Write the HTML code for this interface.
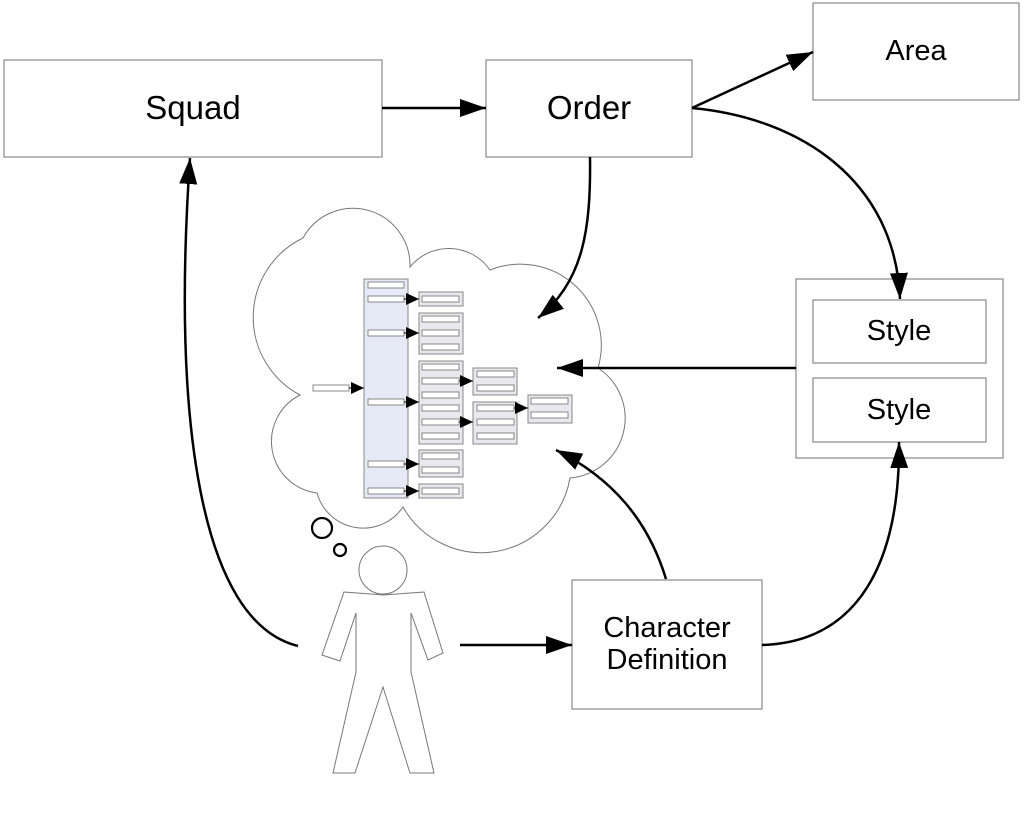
<!DOCTYPE html>
<html><head><meta charset="utf-8"><style>
html,body{margin:0;padding:0;background:#fff;}
svg{display:block;}
text{font-family:"Liberation Sans",Arial,sans-serif;fill:#000;}
</style></head><body>
<svg width="1024" height="826" viewBox="0 0 1024 826" xmlns="http://www.w3.org/2000/svg">
<defs>
<marker id="ah" markerUnits="userSpaceOnUse" markerWidth="28" markerHeight="20" refX="26" refY="9" orient="auto">
<path d="M0,0 L26,9 L0,18 Z" fill="#000"/>
</marker>
<marker id="sa" markerUnits="userSpaceOnUse" markerWidth="14" markerHeight="12" refX="13" refY="6" orient="auto">
<path d="M0,0 L13,6 L0,12 Z" fill="#000"/>
</marker>
</defs>

<g fill="#fff" stroke="#888" stroke-width="1.2">
<rect x="4" y="60" width="378" height="97"/>
<rect x="486" y="60" width="206" height="97"/>
<rect x="813" y="3" width="206" height="97"/>
<rect x="796" y="279" width="207" height="179"/>
<rect x="813" y="300" width="173" height="63"/>
<rect x="813" y="378" width="173" height="64"/>
<rect x="572" y="580" width="190" height="129"/>
</g>
<text x="193" y="119" font-size="33" text-anchor="middle">Squad</text>
<text x="589" y="119" font-size="33" text-anchor="middle">Order</text>
<text x="916" y="60" font-size="29" text-anchor="middle">Area</text>
<text x="899" y="340" font-size="29" text-anchor="middle">Style</text>
<text x="899" y="419" font-size="29" text-anchor="middle">Style</text>
<text x="667" y="637" font-size="29" text-anchor="middle">Character</text>
<text x="667" y="669" font-size="29" text-anchor="middle">Definition</text>

<path d="M300,395 A88,88 0 0 1 303,238 A57,57 0 0 1 410,267 A50,50 0 0 1 490,270 A81,81 0 0 1 598,368 A60,60 0 0 1 570,478 A90,90 0 0 1 403,507 A48,48 0 0 1 317,493 A52,52 0 0 1 300,395 Z" fill="#fff" stroke="#777" stroke-width="1"/>
<circle cx="322" cy="528" r="10" fill="none" stroke="#000" stroke-width="2.2"/>
<circle cx="340" cy="550" r="6" fill="none" stroke="#000" stroke-width="2.2"/>

<circle cx="383" cy="570" r="24" fill="#fff" stroke="#777" stroke-width="1"/>
<path d="M344,592 L383,595 L424,592 L443,653 L428,660 L411,613 L411,672 L434,773 L410,773 L383,687 L355,773 L333,773 L356,672 L356,613 L340,661 L322,655 Z" fill="#fff" stroke="#777" stroke-width="1"/>

<g stroke="#888" stroke-width="1">
<rect x="364" y="279" width="44" height="219" fill="#e6eaf6"/>
<g fill="#e8e8ee">
<rect x="419" y="292" width="44" height="14"/>
<rect x="419" y="313" width="44" height="41"/>
<rect x="419" y="361" width="44" height="83"/>
<rect x="419" y="450" width="44" height="27"/>
<rect x="419" y="484" width="44" height="14"/>
<rect x="473" y="368" width="44" height="27"/>
<rect x="473" y="402" width="44" height="42"/>
<rect x="528" y="395" width="44" height="28"/>
</g>
<g fill="#fff">
<rect x="368" y="282" width="36" height="6"/>
<rect x="368" y="296" width="36" height="6"/>
<rect x="368" y="330" width="36" height="6"/>
<rect x="368" y="399" width="36" height="6"/>
<rect x="368" y="461" width="36" height="6"/>
<rect x="368" y="488" width="36" height="6"/>
<rect x="313" y="385" width="36" height="6"/>
<rect x="422" y="296" width="37" height="6"/>
<rect x="422" y="316" width="37" height="6"/>
<rect x="422" y="330" width="37" height="6"/>
<rect x="422" y="344" width="37" height="6"/>
<rect x="422" y="364" width="37" height="6"/>
<rect x="422" y="378" width="37" height="6"/>
<rect x="422" y="392" width="37" height="6"/>
<rect x="422" y="405" width="37" height="6"/>
<rect x="422" y="419" width="37" height="6"/>
<rect x="422" y="433" width="37" height="6"/>
<rect x="422" y="453" width="37" height="6"/>
<rect x="422" y="467" width="37" height="6"/>
<rect x="422" y="488" width="37" height="6"/>
<rect x="477" y="371" width="37" height="6"/>
<rect x="477" y="385" width="37" height="6"/>
<rect x="477" y="405" width="37" height="6"/>
<rect x="477" y="419" width="37" height="6"/>
<rect x="477" y="433" width="37" height="6"/>
<rect x="531" y="398" width="37" height="6"/>
<rect x="531" y="412" width="37" height="6"/>
</g>
</g>
<g stroke="#000" stroke-width="1" marker-end="url(#sa)">
<line x1="349" y1="388" x2="364" y2="388"/>
<line x1="404" y1="299" x2="419" y2="299"/>
<line x1="404" y1="333" x2="419" y2="333"/>
<line x1="404" y1="402" x2="419" y2="402"/>
<line x1="404" y1="464" x2="419" y2="464"/>
<line x1="404" y1="491" x2="419" y2="491"/>
<line x1="459" y1="381" x2="473" y2="381"/>
<line x1="459" y1="422" x2="473" y2="422"/>
<line x1="514" y1="408" x2="528" y2="408"/>
</g>

<g fill="none" stroke="#000" stroke-width="2.5" marker-end="url(#ah)">
<line x1="382" y1="108" x2="486" y2="108"/>
<line x1="692" y1="108" x2="813" y2="52"/>
<path d="M692,108 C800,118 895,180 900,299"/>
<path d="M590,157 C591,230 583,282 538,318"/>
<line x1="796" y1="368" x2="557" y2="368"/>
<path d="M666,579 C648,520 612,478 556,450"/>
<line x1="460" y1="645" x2="572" y2="645"/>
<path d="M762,645 C860,642 900,560 899,442"/>
<path d="M298,646 C200,622 172,420 190,158"/>
</g>
</svg>
</body></html>
